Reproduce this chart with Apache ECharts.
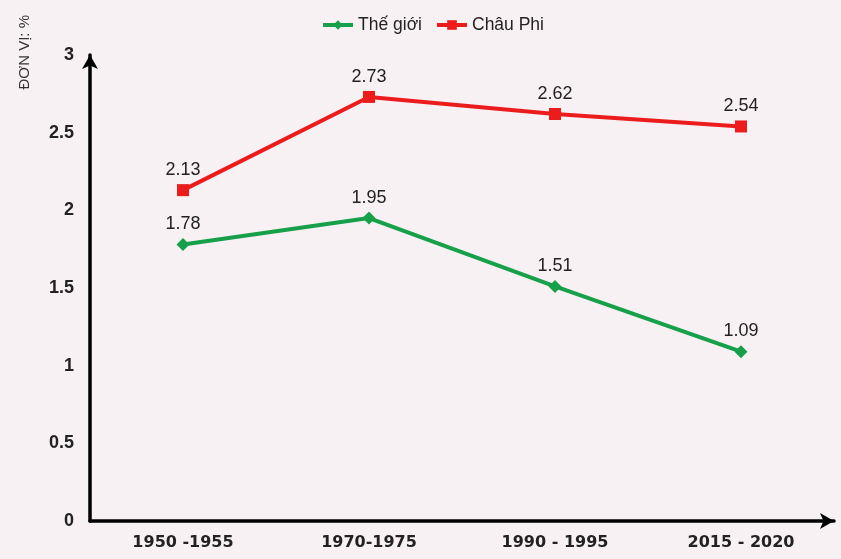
<!DOCTYPE html>
<html><head><meta charset="utf-8">
<script src="https://cdn.jsdelivr.net/npm/echarts@6/dist/echarts.min.js"></script>
<style>html,body{margin:0;padding:0;background:#f8f1f3;}#c{width:841px;height:559px;}</style>
</head><body><div id="c"></div>
<script>
var categories = ['1950 -1955', '1970-1975', '1990 - 1995', '2015 - 2020'];
var theGioi = [1.78, 1.95, 1.51, 1.09];
var chauPhi = [2.13, 2.73, 2.62, 2.54];
var yTicks = [0, 0.5, 1, 1.5, 2, 2.5, 3];

var chart = echarts.init(document.getElementById('c'));
var font = '"Liberation Sans", Arial, sans-serif';
chart.setOption({
  backgroundColor: '#f8f1f3',
  animation: false,
  textStyle: {fontFamily: font},
  legend: {
    top: 11, left: 316, itemWidth: 30, itemHeight: 12, itemGap: 13,
    lineStyle: {width: 4},
    textStyle: {fontSize: 17.5, color: '#222', fontFamily: font},
    data: ['Thế giới', 'Châu Phi']
  },
  graphic: [{
    type: 'text', left: 17, top: 15, rotation: Math.PI / 2,
    style: {text: 'ĐƠN VỊ: %', fontSize: 15, fill: '#333', fontFamily: font}
  }],
  grid: {left: 90, right: 7, top: 55, bottom: 38},
  xAxis: {
    type: 'category', data: categories, boundaryGap: true,
    axisLine: {lineStyle: {color: '#000', width: 3.5}, symbol: ['none', 'arrow'], symbolSize: [12, 14]},
    axisTick: {show: false},
    axisLabel: {fontSize: 16, fontWeight: 'bold', color: '#222', margin: 14, fontFamily: '"DejaVu Sans", sans-serif'}
  },
  yAxis: {
    type: 'value', min: 0, max: 3, interval: 0.5,
    axisLine: {show: true, lineStyle: {color: '#000', width: 3.5}, symbol: ['none', 'arrow'], symbolSize: [12, 14]},
    axisTick: {show: false},
    splitLine: {show: false},
    axisLabel: {fontSize: 18, fontWeight: 'bold', color: '#222', margin: 16, fontFamily: font,
      formatter: function (v) { return yTicks.indexOf(v) >= 0 ? String(v) : ''; }}
  },
  series: [{
    name: 'Thế giới', type: 'line', data: theGioi,
    symbol: 'diamond', symbolSize: 13,
    lineStyle: {color: '#17a04a', width: 4},
    itemStyle: {color: '#17a04a'},
    label: {show: true, position: 'top', distance: 5, fontSize: 18, color: '#222', fontFamily: font}
  }, {
    name: 'Châu Phi', type: 'line', data: chauPhi,
    symbol: 'rect', symbolSize: 12,
    lineStyle: {color: '#ec1c1c', width: 4},
    itemStyle: {color: '#ec1c1c'},
    label: {show: true, position: 'top', distance: 5, fontSize: 18, color: '#222', fontFamily: font}
  }]
});
</script></body></html>
